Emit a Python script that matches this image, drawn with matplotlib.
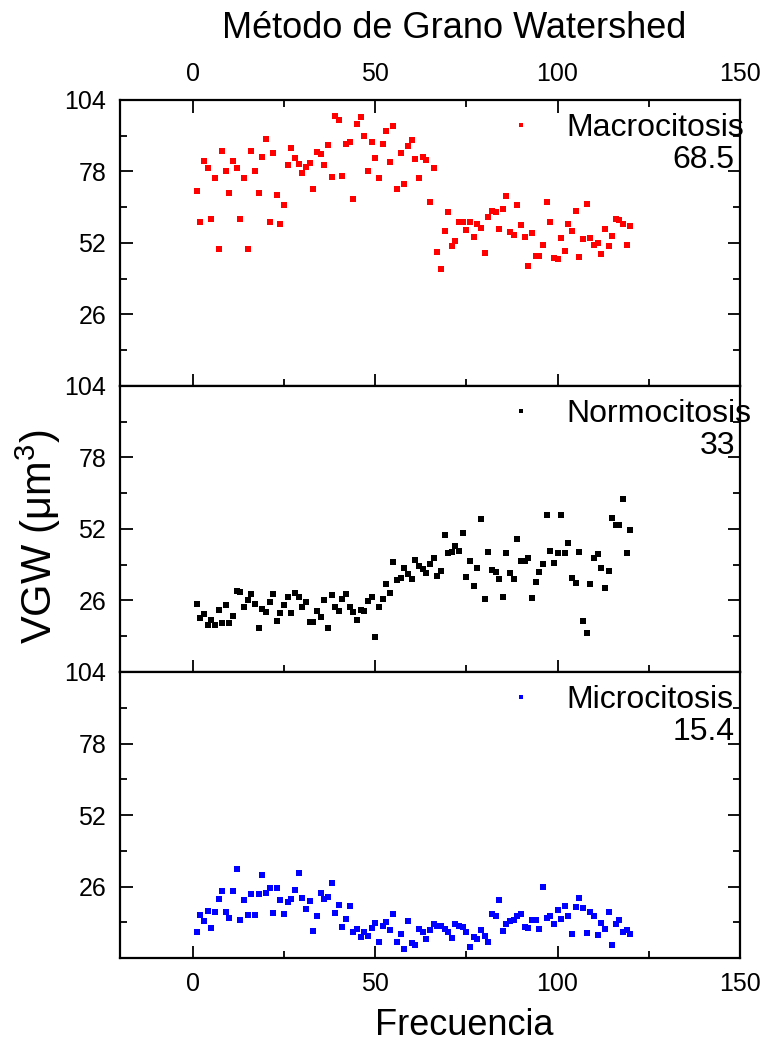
import numpy as np
import matplotlib
matplotlib.use('Agg')
import matplotlib.pyplot as plt
from matplotlib.ticker import MultipleLocator

plt.rcParams['font.family'] = ['Liberation Sans', 'DejaVu Sans']
plt.rcParams['mathtext.fontset'] = 'custom'
plt.rcParams['mathtext.rm'] = 'Liberation Sans'
plt.rcParams['mathtext.it'] = 'Liberation Sans'

frecuencia = np.arange(1, 121)

macro = [70.8, 59.5, 81.9, 79.3, 60.9, 75.7, 49.8, 85.5, 78.0, 70.2,
         81.9, 79.3, 60.9, 75.7, 49.8, 85.5, 78.0, 70.2, 83.3, 89.8,
         59.8, 84.7, 69.6, 59.0, 65.7, 80.5, 86.4, 83.0, 80.9, 77.3,
         79.8, 81.1, 71.5, 85.1, 84.5, 80.5, 87.8, 76.1, 98.0, 96.9,
         76.3, 88.0, 88.6, 67.9, 95.2, 97.9, 90.8, 78.0, 88.8, 83.0,
         75.6, 88.0, 92.8, 81.4, 94.7, 71.7, 84.6, 73.6, 87.3, 89.6,
         82.5, 75.8, 83.1, 82.0, 66.8, 79.4, 48.9, 42.6, 56.5, 63.4,
         50.8, 52.7, 59.7, 59.8, 56.6, 59.5, 54.3, 58.9, 57.3, 48.5,
         61.5, 63.8, 63.2, 57.2, 64.5, 69.2, 55.9, 54.8, 65.7, 58.4,
         54.0, 43.7, 55.5, 47.4, 47.4, 51.2, 66.9, 59.8, 46.5, 46.1,
         53.9, 49.1, 59.0, 56.5, 63.6, 47.0, 53.4, 66.1, 53.8, 51.3,
         52.0, 47.9, 57.1, 50.8, 54.4, 60.9, 60.3, 58.8, 51.3, 58.3]

normo = [24.8, 19.8, 21.1, 17.0, 18.9, 17.2, 22.5, 17.8, 24.2, 17.8,
         20.2, 29.6, 29.1, 23.6, 26.3, 28.2, 24.8, 16.1, 23.0, 21.9,
         25.3, 28.3, 18.7, 21.3, 24.5, 27.3, 21.6, 28.9, 27.3, 23.6,
         25.5, 18.1, 18.1, 22.3, 20.0, 26.1, 16.1, 28.1, 23.6, 22.1,
         26.7, 28.3, 23.6, 21.7, 19.0, 22.5, 22.1, 25.9, 27.2, 12.6,
         23.5, 26.6, 32.0, 28.6, 40.1, 33.5, 34.2, 37.8, 35.5, 33.7,
         40.8, 38.6, 37.6, 35.9, 39.1, 41.3, 35.0, 36.7, 49.8, 43.1,
         43.6, 45.9, 44.0, 50.7, 34.7, 40.2, 31.1, 37.9, 55.7, 26.5,
         43.6, 37.2, 36.2, 33.7, 27.3, 43.1, 35.9, 33.8, 48.5, 40.3,
         40.4, 41.4, 27.0, 32.8, 36.4, 39.4, 57.1, 44.0, 39.8, 43.1,
         57.1, 43.2, 46.9, 34.0, 32.4, 43.8, 18.7, 14.0, 32.0, 41.4,
         43.0, 37.7, 30.7, 36.7, 55.9, 53.6, 53.5, 62.9, 43.4, 51.6]

micro = [9.6, 15.8, 13.5, 17.0, 10.8, 16.6, 21.3, 24.2, 16.9, 14.6,
         24.4, 32.4, 14.0, 21.2, 15.8, 23.2, 15.8, 23.2, 30.3, 23.6,
         25.6, 16.5, 25.3, 21.2, 16.0, 20.5, 21.4, 24.7, 30.8, 21.7,
         17.7, 20.8, 9.9, 15.2, 23.5, 21.3, 22.1, 27.3, 16.5, 19.2,
         11.4, 14.3, 19.0, 9.3, 10.5, 7.8, 9.5, 8.1, 11.0, 12.8,
         5.9, 11.6, 13.1, 10.1, 15.9, 6.0, 8.8, 3.3, 13.3, 5.4,
         4.9, 10.7, 9.3, 7.0, 10.2, 12.2, 11.6, 11.8, 10.7, 9.3,
         7.2, 12.4, 11.6, 11.1, 9.3, 4.0, 7.7, 6.9, 10.1, 8.1,
         6.0, 16.1, 15.2, 21.2, 9.9, 12.5, 13.5, 14.0, 15.4, 16.0,
         11.4, 10.9, 13.7, 13.8, 10.4, 25.8, 14.6, 15.3, 12.5, 17.6,
         14.3, 19.0, 15.4, 8.6, 18.7, 21.9, 18.2, 9.1, 16.7, 15.3,
         8.2, 12.8, 10.6, 16.9, 4.6, 12.2, 13.8, 9.6, 10.1, 8.7]

series = [('Macrocitosis', '68.5', macro, '#ff0000'),
          ('Normocitosis', '33', normo, '#000000'),
          ('Microcitosis', '15.4', micro, '#0000ff')]

fig, axes = plt.subplots(3, 1, figsize=(7.65, 10.47), dpi=100, sharex=True)
fig.subplots_adjust(left=0.157, right=0.967, top=0.9045, bottom=0.085, hspace=0)

for i, (ax, (name, val, y, color)) in enumerate(zip(axes, series)):
    ax.plot(frecuencia, y, linestyle='none', marker='s', markersize=3.8,
            color=color, markeredgewidth=0, label=name)
    ax.set_xlim(-20, 150)
    ax.set_ylim(0, 104)
    ax.xaxis.set_major_locator(MultipleLocator(50))
    ax.xaxis.set_minor_locator(MultipleLocator(25))
    ax.set_yticks([26, 52, 78, 104])
    ax.yaxis.set_minor_locator(MultipleLocator(13))
    for s in ax.spines.values():
        s.set_linewidth(1.6)
    ax.tick_params(which='both', direction='in', width=1.3, labelsize=18,
                   left=True, right=True, top=(i == 0), bottom=True,
                   labeltop=(i == 0), labelbottom=(i == 2))
    ax.tick_params(which='major', length=9, pad=10)
    ax.tick_params(which='minor', length=5)
    leg = ax.legend(loc='center left', bbox_to_anchor=(0.606, 0.902), frameon=False,
                    fontsize=23, handlelength=0.8, handletextpad=1.0,
                    markerscale=0.8, borderaxespad=0)
    ax.text(0.992, 0.79, val, transform=ax.transAxes, ha='right', va='center',
            fontsize=23)

fig.text(0.594, 0.973, 'Método de Grano Watershed', ha='center', va='center', fontsize=26)
fig.text(0.607, 0.021, 'Frecuencia', ha='center', va='center', fontsize=26)
fig.text(0.05, 0.487, r'VGW ($\mu$m$^3$)', ha='center', va='center',
         rotation=90, fontsize=30)

fig.savefig('out.png', dpi=100)
